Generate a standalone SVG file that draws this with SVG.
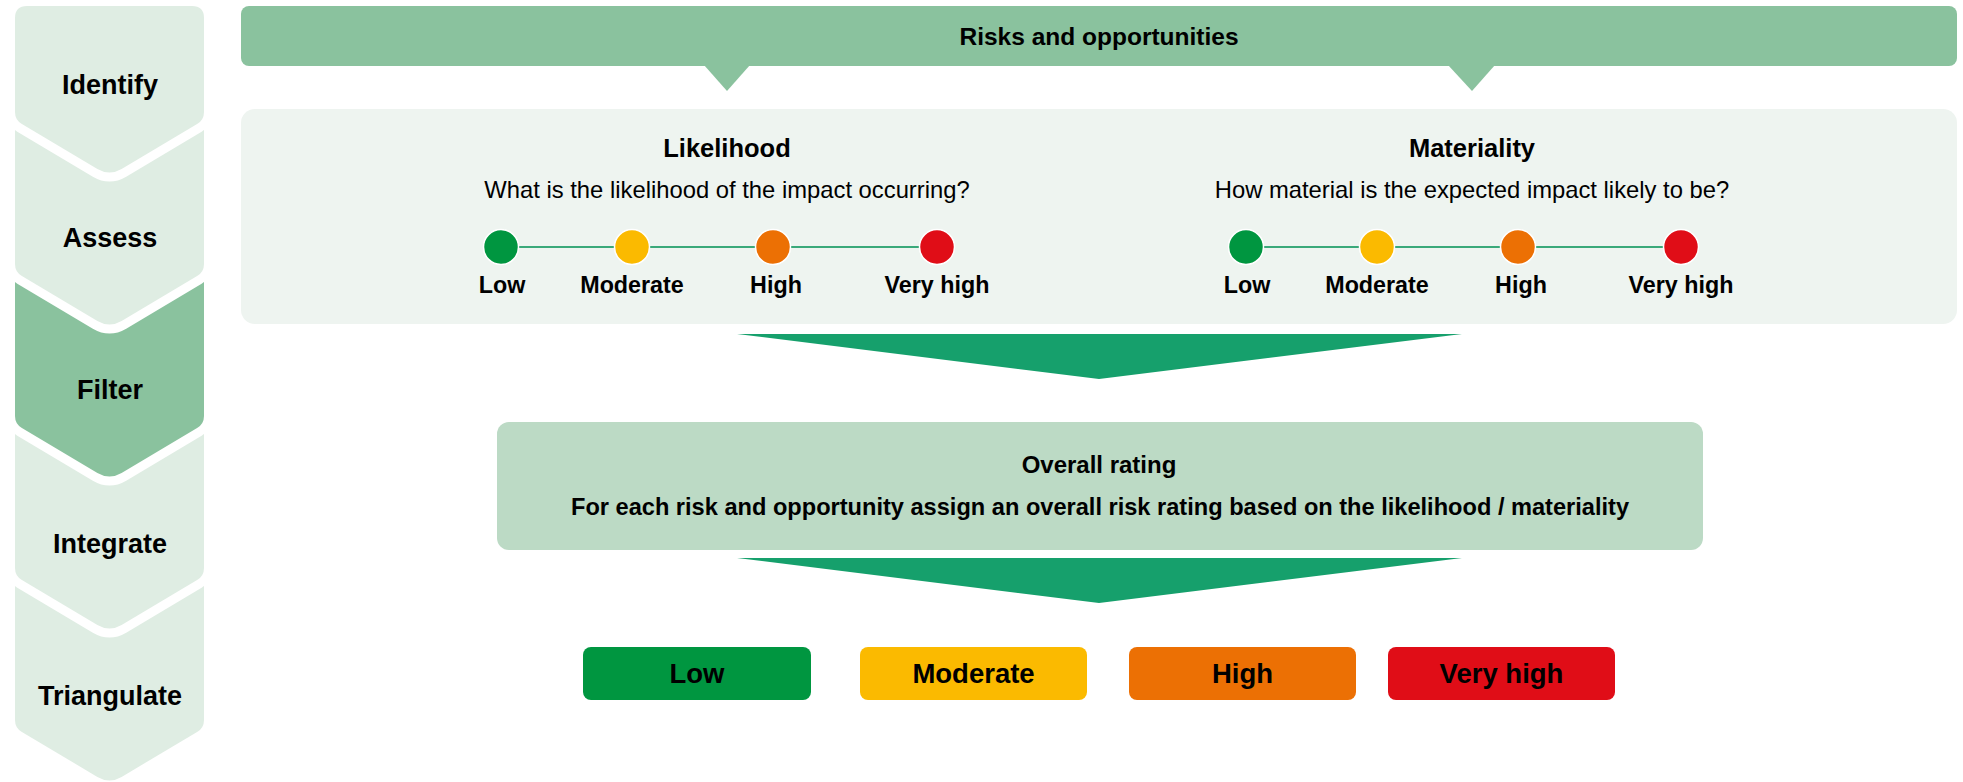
<svg xmlns="http://www.w3.org/2000/svg" width="1963" height="782" viewBox="0 0 1963 782">
<style>
text{font-family:"Liberation Sans",Arial,sans-serif;fill:#000;text-anchor:middle}
.step{font-size:27px;font-weight:bold}
.chev{stroke:#fff;stroke-width:18;paint-order:stroke;stroke-linejoin:round}
.light{fill:#DFEDE3}
.dark{fill:#8AC29E}
.head{font-size:25.5px;font-weight:bold}
.sub{font-size:23.8px}
.lbl{font-size:23.3px;font-weight:bold}
.dot{stroke:#fff;stroke-width:1.5}
.box{font-size:27.5px;font-weight:bold}
.tri{fill:#16A06C}
.ptr{fill:#8AC29E}
</style>
<rect width="1963" height="782" fill="#fff"/>
<g id="steps">
<g id="step-triangulate">
<path class="chev light" d="M15 568 L204 568 L204 720 Q204 728 197.1 732 L121.6 776.9 Q109.5 784 97.4 776.9 L21.9 732 Q15 728 15 720 Z"/>
<text class="step" x="110" y="705">Triangulate</text>
</g>
<g id="step-integrate">
<path class="chev light" d="M15 404 L204 404 L204 568 Q204 576 197.1 580 L121.6 624.9 Q109.5 632 97.4 624.9 L21.9 580 Q15 576 15 568 Z"/>
<text class="step" x="110" y="553">Integrate</text>
</g>
<g id="step-filter">
<path class="chev dark" d="M15 252 L204 252 L204 416 Q204 424 197.1 428 L121.6 472.9 Q109.5 480 97.4 472.9 L21.9 428 Q15 424 15 416 Z"/>
<text class="step" x="110" y="399">Filter</text>
</g>
<g id="step-assess">
<path class="chev light" d="M15 100 L204 100 L204 264 Q204 272 197.1 276 L121.6 320.9 Q109.5 328 97.4 320.9 L21.9 276 Q15 272 15 264 Z"/>
<text class="step" x="110" y="247">Assess</text>
</g>
<g id="step-identify">
<path class="chev light" d="M15 18 Q15 6 27 6 L192 6 Q204 6 204 18 L204 112 Q204 120 197.1 124 L121.6 168.9 Q109.5 176 97.4 168.9 L21.9 124 Q15 120 15 112 Z"/>
<text class="step" x="110" y="94">Identify</text>
</g>
</g>
<g id="connectors">
<path class="ptr" d="M704 65 L750 65 L727 91 Z"/>
<path class="ptr" d="M1448 65 L1495 65 L1472 91 Z"/>
<path class="tri" d="M737 334 L1462 334 L1099 379 Z"/>
<path class="tri" d="M737 558 L1462 558 L1099 603 Z"/>
</g>
<g id="risks-bar">
<rect x="241" y="6" width="1716" height="60" rx="8" fill="#8AC29E"/>
<text x="1099" y="45" style="font-size:24.5px;font-weight:bold">Risks and opportunities</text>
</g>
<g id="assessment-panel">
<rect x="241" y="109" width="1716" height="215" rx="14" fill="#EEF4F0"/>
</g>
<g id="likelihood">
<text class="head" x="727" y="157">Likelihood</text>
<text class="sub" x="727" y="198">What is the likelihood of the impact occurring?</text>
<line x1="501" y1="247" x2="937" y2="247" stroke="#3AA97A" stroke-width="2"/>
<circle class="dot" cx="501" cy="247" r="17.5" fill="#009640"/>
<circle class="dot" cx="632" cy="247" r="17.5" fill="#FBBA00"/>
<circle class="dot" cx="773" cy="247" r="17.5" fill="#EC7004"/>
<circle class="dot" cx="937" cy="247" r="17.5" fill="#E00D17"/>
<text class="lbl" x="502" y="293">Low</text>
<text class="lbl" x="632" y="293">Moderate</text>
<text class="lbl" x="776" y="293">High</text>
<text class="lbl" x="937" y="293">Very high</text>
</g>
<g id="materiality">
<text class="head" x="1472" y="157">Materiality</text>
<text class="sub" x="1472" y="198">How material is the expected impact likely to be?</text>
<line x1="1246" y1="247" x2="1681" y2="247" stroke="#3AA97A" stroke-width="2"/>
<circle class="dot" cx="1246" cy="247" r="17.5" fill="#009640"/>
<circle class="dot" cx="1377" cy="247" r="17.5" fill="#FBBA00"/>
<circle class="dot" cx="1518" cy="247" r="17.5" fill="#EC7004"/>
<circle class="dot" cx="1681" cy="247" r="17.5" fill="#E00D17"/>
<text class="lbl" x="1247" y="293">Low</text>
<text class="lbl" x="1377" y="293">Moderate</text>
<text class="lbl" x="1521" y="293">High</text>
<text class="lbl" x="1681" y="293">Very high</text>
</g>
<g id="overall-rating">
<rect x="497" y="422" width="1206" height="128" rx="12" fill="#BCDAC5"/>
<text x="1099" y="473" style="font-size:24px;font-weight:bold">Overall rating</text>
<text x="1100" y="515" style="font-size:23.6px;font-weight:bold">For each risk and opportunity assign an overall risk rating based on the likelihood / materiality</text>
</g>
<g id="rating-low">
<rect x="583" y="647" width="228" height="53" rx="8" fill="#009640"/>
<text class="box" x="697" y="683">Low</text>
</g>
<g id="rating-moderate">
<rect x="860" y="647" width="227" height="53" rx="8" fill="#FBBA00"/>
<text class="box" x="973.5" y="683">Moderate</text>
</g>
<g id="rating-high">
<rect x="1129" y="647" width="227" height="53" rx="8" fill="#EC7004"/>
<text class="box" x="1242.5" y="683">High</text>
</g>
<g id="rating-very-high">
<rect x="1388" y="647" width="227" height="53" rx="8" fill="#E00D17"/>
<text class="box" x="1501.5" y="683">Very high</text>
</g>
</svg>
